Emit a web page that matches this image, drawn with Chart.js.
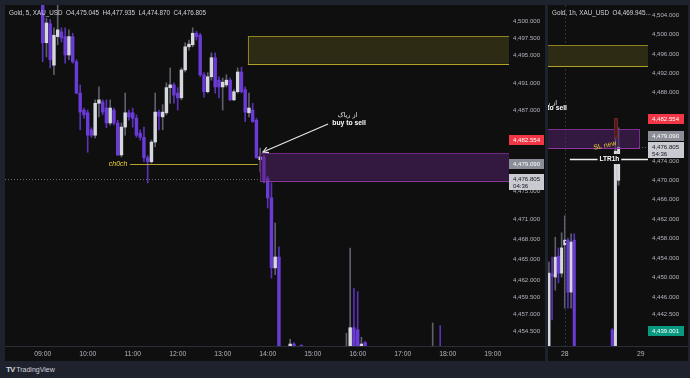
<!DOCTYPE html>
<html><head><meta charset="utf-8">
<script src="https://cdn.jsdelivr.net/npm/chart.js@4.4.1/dist/chart.umd.min.js"></script>
<style>
html,body{margin:0;padding:0;}
body{width:690px;height:378px;background:#1e222d;position:relative;overflow:hidden;}
.pane{position:absolute;background:#0f0f0f;}
#pane1{left:5px;top:5px;width:540px;height:356px;}
#pane2{left:548px;top:5px;width:140px;height:356px;}
canvas{position:absolute;left:0;top:0;}
#brand{position:absolute;left:6px;top:365px;color:#d1d4dc;font:7px "Liberation Sans",Arial,sans-serif;white-space:nowrap;}
#brand b{font-size:8px;margin-right:2px;letter-spacing:-1px;font-weight:bold;}
</style></head>
<body>
<div class="pane" id="pane1"><canvas id="c1" width="540" height="356"></canvas></div>
<div class="pane" id="pane2"><canvas id="c2" width="140" height="356"></canvas></div>
<div id="brand"><b>TV</b>TradingView</div>
<script>
// ---------- 5-minute chart (left pane) ----------
const times5m = [
 "09:00","09:05","09:10","09:15","09:20","09:25","09:30","09:35","09:40","09:45","09:50","09:55",
 "10:00","10:05","10:10","10:15","10:20","10:25","10:30","10:35","10:40","10:45","10:50","10:55",
 "11:00","11:05","11:10","11:15","11:20","11:25","11:30","11:35","11:40","11:45","11:50","11:55",
 "12:00","12:05","12:10","12:15","12:20","12:25","12:30","12:35","12:40","12:45","12:50","12:55",
 "13:00","13:05","13:10","13:15","13:20","13:25","13:30","13:35","13:40","13:45","13:50","13:55",
 "14:00","14:05","14:10","14:15","14:30","14:35","14:45",
 "15:45","15:50","15:55","16:00","16:05","16:10","17:40","17:50"];
const open5m = [
 4503.0,4496.9,4499.7,4493.6,4497.8,4498.5,4497.8,4495.1,4497.8,4494.1,4489.5,4487.0,
 4486.6,4484.1,4483.3,4488.0,4488.2,4487.3,4485.1,4487.0,4485.1,4480.4,4484.5,4486.6,
 4486.6,4485.8,4483.6,4483.0,4480.0,4479.4,4482.3,4486.7,4486.0,4486.6,4490.3,4490.7,
 4489.5,4488.8,4492.9,4496.3,4496.6,4498.3,4498.0,4492.2,4489.7,4491.9,4494.7,4491.4,
 4490.4,4490.7,4491.4,4488.5,4489.7,4492.6,4490.0,4486.6,4487.0,4485.5,4479.7,4480.1,
 4477.0,4474.1,4463.8,4465.4,4450.0,4452.6,4452.4,
 4449.0,4450.0,4455.0,4454.7,4450.0,4452.8,4448.0,4449.0];
const high5m = [
 4503.5,4500.5,4500.3,4499.1,4502.6,4499.1,4499.1,4498.8,4498.3,4494.4,4490.7,4487.3,
 4487.0,4484.4,4488.5,4490.4,4488.5,4488.5,4488.5,4487.3,4485.5,4485.1,4489.5,4487.0,
 4487.3,4486.3,4484.1,4484.5,4480.3,4482.6,4489.5,4487.0,4487.8,4491.0,4493.2,4491.0,
 4490.3,4493.2,4496.9,4497.3,4499.1,4498.6,4498.3,4492.5,4492.5,4495.4,4495.4,4491.9,
 4491.7,4492.2,4491.7,4490.0,4493.2,4493.3,4490.4,4489.5,4488.0,4485.8,4481.4,4480.4,
 4477.3,4476.3,4470.4,4466.9,4453.3,4452.8,4452.5,
 4454.2,4466.7,4460.8,4460.3,4453.6,4453.0,4455.7,4455.3];
const low5m = [
 4494.1,4494.8,4493.2,4492.2,4496.6,4497.0,4493.9,4494.4,4493.9,4489.4,4484.1,4485.8,
 4480.8,4483.0,4482.9,4486.0,4486.3,4484.4,4484.8,4484.8,4480.3,4480.1,4483.3,4485.5,
 4484.5,4483.0,4482.6,4479.4,4476.3,4479.2,4481.6,4484.1,4484.1,4486.3,4488.0,4488.0,
 4487.0,4488.5,4492.6,4495.8,4496.3,4497.3,4491.9,4488.9,4489.5,4491.4,4489.5,4488.8,
 4487.0,4490.4,4488.4,4488.4,4489.5,4489.5,4485.3,4486.0,4485.2,4479.9,4477.9,4476.3,
 4472.6,4462.3,4462.8,4447.0,4449.0,4449.0,4449.0,
 4448.0,4449.0,4449.0,4449.0,4449.0,4449.0,4447.0,4447.0];
const close5m = [
 4496.9,4499.8,4494.4,4498.0,4498.8,4497.6,4495.1,4497.8,4494.1,4489.5,4486.7,4486.3,
 4483.3,4483.3,4488.0,4488.5,4486.7,4485.1,4487.3,4485.1,4480.4,4484.5,4486.6,4486.0,
 4485.8,4483.3,4483.0,4480.0,4479.4,4482.3,4486.7,4486.1,4486.7,4490.3,4490.7,4489.2,
 4488.8,4492.9,4496.3,4496.7,4498.3,4497.8,4492.2,4489.7,4491.9,4494.7,4490.4,4490.4,
 4491.1,4491.4,4488.5,4489.7,4492.6,4489.7,4486.7,4487.3,4485.3,4480.0,4480.1,4476.7,
 4474.1,4463.8,4465.4,4448.0,4452.6,4450.0,4450.0,
 4451.0,4455.0,4450.0,4450.0,4452.6,4450.0,4449.0,4448.0];
const yTicks5m = [4500,4497.5,4495,4491,4487,4483,4479,4475,4471,4468,4465,4462,4459.5,4457,4454.5];
const xTickLabels5m = ["09:00","10:00","11:00","12:00","13:00","14:00","15:00","16:00","17:00","18:00","19:00"];

// ---------- 1-hour chart (right pane), x = hours from the 28th 00:00 ----------
const hours1h = [-5,-4,-3,-2,-1,0,1,2,3,15,16,17];
const open1h  = [4435.5,4450.7,4450.1,4454.4,4450.9,4456.7,4457.7,4447.0,4457.7,4439.2,4434.0,4470.0];
const high1h  = [4453.2,4454.2,4458.3,4456.1,4459.2,4462.7,4458.1,4459.0,4459.0,4439.5,4479.0,4480.8];
const low1h   = [4435.0,4441.3,4447.4,4448.9,4450.1,4443.7,4443.7,4443.7,4428.0,4433.0,4433.0,4469.0];
const close1h = [4450.9,4450.3,4454.2,4450.9,4456.1,4457.7,4447.0,4457.3,4430.0,4434.0,4476.0,4476.8];
const yTicks1h = [4504,4500,4496,4492,4488,4483,4479,4474,4470,4466,4462,4458,4454,4450,4446,4442.5];
const dayTicks1h = [0,24];
const dayLabels1h = ["28","29"];

// ---------- helpers ----------
const FONT = '"Liberation Sans", Arial, sans-serif';
const TICK = '#b2b5be';
const UP_BODY = '#d6d8de', DOWN_BODY = '#6a3bd6', UP_WICK = '#5d606b', DOWN_WICK = '#5a32b8';
function fmt(v){ return Number(v).toLocaleString('en-US',{minimumFractionDigits:3,maximumFractionDigits:3}); }
function slotOf(t){ const p=t.split(':').map(Number); return ((p[0]-9)*60+p[1])/5; }
const slots5m = times5m.map(slotOf);
const xTickSlots5m = xTickLabels5m.map(slotOf);

function candleSets(xs,o,h,l,c,bodyW){
  const up = xs.map((x,i)=>c[i]>=o[i]);
  return [
    {data: xs.map((x,i)=>({x:x,y:[l[i],h[i]]})), backgroundColor: up.map(u=>u?UP_WICK:DOWN_WICK),
     barThickness:1, grouped:false, borderWidth:0, order:2},
    {data: xs.map((x,i)=>({x:x,y:[Math.min(o[i],c[i]),Math.max(o[i],c[i])]})), backgroundColor: up.map(u=>u?UP_BODY:DOWN_BODY),
     barThickness:bodyW, grouped:false, borderWidth:0, minBarLength:1, order:1}
  ];
}

function makeAnnot(spec){
  return {
    id:'annot'+spec.id,
    afterDatasetsDraw(chart){
      const ctx=chart.ctx, a=chart.chartArea, xs=chart.scales.x, ys=chart.scales.y;
      const px=v=>xs.getPixelForValue(v), py=v=>ys.getPixelForValue(v);
      ctx.save();
      ctx.beginPath(); ctx.rect(a.left,a.top,a.right-a.left,a.bottom-a.top); ctx.clip();
      (spec.vlines||[]).forEach(l=>{
        const x=Math.round(px(l.x))+0.5;
        ctx.strokeStyle=l.color; ctx.lineWidth=1; ctx.setLineDash(l.dash||[]);
        ctx.beginPath(); ctx.moveTo(x,a.top); ctx.lineTo(x,a.bottom); ctx.stroke();
      });
      ctx.setLineDash([]);
      (spec.boxes||[]).forEach(b=>{
        const x1=b.x1==null?a.left-2:px(b.x1), x2=b.x2==null?a.right+2:px(b.x2);
        const y1=py(b.y1), y2=py(b.y2);
        ctx.fillStyle=b.fill; ctx.fillRect(x1,y1,x2-x1,y2-y1);
        ctx.lineWidth=1;
        ctx.strokeStyle=b.line;
        ctx.strokeRect(Math.round(x1)+0.5,Math.round(y1)+0.5,Math.round(x2-x1),Math.round(y2-y1));
        if(b.bottomLine){ ctx.strokeStyle=b.bottomLine; ctx.beginPath(); ctx.moveTo(x1,Math.round(y2)+0.5); ctx.lineTo(x2,Math.round(y2)+0.5); ctx.stroke(); }
      });
      (spec.hlines||[]).forEach(l=>{
        const x1=l.x1==null?a.left:px(l.x1), x2=l.x2==null?a.right:px(l.x2);
        const y=Math.round(py(l.y))+0.5;
        ctx.strokeStyle=l.color; ctx.lineWidth=l.width||1; ctx.setLineDash(l.dash||[]);
        ctx.beginPath(); ctx.moveTo(x1,y); ctx.lineTo(x2,y); ctx.stroke();
      });
      ctx.setLineDash([]);
      (spec.arrows||[]).forEach(r=>{
        const x1=px(r.x1),y1=py(r.y1),x2=px(r.x2),y2=py(r.y2);
        ctx.strokeStyle=r.color; ctx.lineWidth=1.2;
        ctx.beginPath(); ctx.moveTo(x1,y1); ctx.lineTo(x2,y2); ctx.stroke();
        const ang=Math.atan2(y2-y1,x2-x1), L=6;
        ctx.beginPath();
        ctx.moveTo(x2-L*Math.cos(ang-0.5),y2-L*Math.sin(ang-0.5));
        ctx.lineTo(x2,y2);
        ctx.lineTo(x2-L*Math.cos(ang+0.5),y2-L*Math.sin(ang+0.5));
        ctx.stroke();
      });
      (spec.texts||[]).forEach(t=>{
        ctx.save();
        ctx.font=t.font; ctx.textBaseline='middle'; ctx.textAlign=t.align||'center';
        const x=px(t.x), y=py(t.y);
        ctx.translate(x,y); if(t.rot) ctx.rotate(t.rot);
        if(t.bg){
          const w=ctx.measureText(t.text).width+4;
          const ox=t.align==='left'?-2:(t.align==='right'?-w+2:-w/2);
          ctx.fillStyle=t.bg; ctx.fillRect(ox,-5,w,10);
        }
        ctx.fillStyle=t.color; ctx.fillText(t.text,0,0);
        ctx.restore();
      });
      ctx.restore();
    },
    afterDraw(chart){
      const ctx=chart.ctx, a=chart.chartArea, ys=chart.scales.y, W=chart.width;
      ctx.save();
      ctx.strokeStyle='#2a2e39'; ctx.lineWidth=1;
      ctx.beginPath(); ctx.moveTo(0,Math.round(a.bottom)+0.5); ctx.lineTo(W,Math.round(a.bottom)+0.5); ctx.stroke();
      (spec.axisLabels||[]).forEach(l=>{
        const y=ys.getPixelForValue(l.y);
        const h=l.sub?16:10;
        ctx.fillStyle=l.bg;
        ctx.fillRect(a.right,Math.round(y-5),spec.labelW,h);
        ctx.fillStyle=l.fg; ctx.font='6.1px '+FONT; ctx.textBaseline='middle'; ctx.textAlign='left';
        ctx.fillText(l.text,a.right+4,y);
        if(l.sub) ctx.fillText(l.sub,a.right+4,y+7);
      });
      ctx.font='6.3px '+FONT; ctx.fillStyle='#d1d4dc'; ctx.textBaseline='middle'; ctx.textAlign='left';
      ctx.fillText(spec.title,a.left+4,8);
      ctx.restore();
    }
  };
}

function baseOptions(xmin,xmax,ymin,ymax,yTicks,xTicks,xLabel,yW){
  return {
    responsive:false, animation:false, events:[],
    layout:{padding:0, autoPadding:false},
    plugins:{legend:{display:false}, tooltip:{enabled:false}},
    scales:{
      x:{type:'linear', min:xmin, max:xmax, offset:false,
         grid:{display:false, drawTicks:false, offset:false}, border:{display:false},
         afterBuildTicks:s=>{ s.ticks=xTicks.map(v=>({value:v})); },
         afterFit:s=>{ s.height=15; s.paddingLeft=0; s.paddingRight=0; s.paddingTop=0; s.paddingBottom=0; },
         ticks:{color:TICK, font:{family:FONT,size:6.8}, padding:4, maxRotation:0, autoSkip:false,
                callback:(v)=>xLabel(v)}},
      y:{type:'linear', position:'right', min:ymin, max:ymax,
         grid:{display:false, drawTicks:false}, border:{display:false},
         afterBuildTicks:s=>{ s.ticks=yTicks.map(v=>({value:v})); },
         afterFit:s=>{ s.width=yW; s.paddingTop=0; s.paddingBottom=0; s.paddingLeft=0; s.paddingRight=0; },
         ticks:{color:TICK, font:{family:FONT,size:6.1}, padding:4, autoSkip:false,
                callback:(v)=>fmt(v)}}
    }
  };
}

const spec1 = {
  id:1, labelW:35,
  title:'Gold, 5, XAU_USD  O4,475.045  H4,477.935  L4,474.870  C4,476.805',
  boxes:[
    {x1:54.7, x2:null, y1:4497.9, y2:4493.8, fill:'#2e2b15', line:'#8f8221', bottomLine:'#b4a32b'},
    {x1:58.0, x2:null, y1:4480.7, y2:4476.6, fill:'rgba(88,34,112,0.5)', line:'#6c2a7e', bottomLine:'#8c389f'}
  ],
  hlines:[
    {x1:23.3, x2:57.4, y:4479.09, color:'#b5a32a'},
    {x1:null, x2:58.0, y:4476.805, color:'rgba(120,123,134,0.8)', dash:[1,2]}
  ],
  arrows:[{x1:76.1, y1:4484.95, x2:58.75, y2:4480.84, color:'#e6e6e6'}],
  texts:[
    {x:22.6, y:4479.09, text:'ch0ch', color:'#f0d53a', font:'italic 7px '+FONT, align:'right'},
    {x:81.3, y:4486.3, text:'از ریاک', color:'#e6e6e6', font:'6.5px "DejaVu Sans"', align:'center'},
    {x:81.7, y:4485.15, text:'buy to sell', color:'#ffffff', font:'bold 6.8px '+FONT, align:'center'}
  ],
  axisLabels:[
    {y:4482.554, text:'4,482.554', bg:'#f23645', fg:'#ffffff'},
    {y:4479.09, text:'4,479.090', bg:'#8b8e96', fg:'#ffffff'},
    {y:4476.805, text:'4,476.805', sub:'04:36', bg:'#c9cbd1', fg:'#131722'}
  ]
};
const spec2 = {
  id:2, labelW:36,
  title:'Gold, 1h, XAU_USD  O4,469.945...',
  vlines:[{x:0, color:'#2e3240', dash:[2,2]}],
  boxes:[
    {x1:null, x2:null, y1:4497.83, y2:4493.5, fill:'#2e2b15', line:'#8f8221', bottomLine:'#b4a32b'},
    {x1:null, x2:23.5, y1:4480.55, y2:4476.65, fill:'rgba(88,34,112,0.5)', line:'#7a2e8e', bottomLine:'#8c389f'},
    {x1:15.7, x2:16.6, y1:4482.8, y2:4478.9, fill:'#4a1c20', line:'#6e2428'}
  ],
  hlines:[
    {x1:1.6, x2:null, y:4474.38, color:'#f0f0f0', width:1.3},
    {x1:23.5, x2:null, y:4476.805, color:'rgba(120,123,134,0.8)', dash:[1,2]}
  ],
  texts:[
    {x:14.1, y:4474.38, text:'LTR1h', color:'#ffffff', bg:'#0f0f0f', font:'bold 6.5px '+FONT, align:'center'},
    {x:12.7, y:4477.16, text:'SL new', color:'#e8cc2e', font:'7px '+FONT, align:'center', rot:-0.2},
    {x:-2.4, y:4485.9, text:'از ریاک', color:'#e6e6e6', font:'6.5px "DejaVu Sans"', align:'right'},
    {x:0.7, y:4484.9, text:'buy to sell', color:'#ffffff', font:'bold 6.8px '+FONT, align:'right'}
  ],
  axisLabels:[
    {y:4482.554, text:'4,482.554', bg:'#f23645', fg:'#ffffff'},
    {y:4479.09, text:'4,479.090', bg:'#8b8e96', fg:'#ffffff'},
    {y:4476.805, text:'4,476.805', sub:'54:36', bg:'#c9cbd1', fg:'#131722'},
    {y:4439.001, text:'4,439.001', bg:'#089981', fg:'#ffffff'}
  ]
};

new Chart(document.getElementById('c1'), {
  type:'bar',
  data:{datasets:candleSets(slots5m,open5m,high5m,low5m,close5m,2.8)},
  options:baseOptions(-10.05,124.35,4452.31,4502.45,yTicks5m,xTickSlots5m,
    v=>xTickLabels5m[xTickSlots5m.indexOf(v)]||'',36),
  plugins:[makeAnnot(spec1)]
});
new Chart(document.getElementById('c2'), {
  type:'bar',
  data:{datasets:candleSets(hours1h,open1h,high1h,low1h,close1h,2.4)},
  options:baseOptions(-5.3,26.3,4435.92,4506.06,yTicks1h,dayTicks1h,
    v=>dayLabels1h[dayTicks1h.indexOf(v)]||'',40),
  plugins:[makeAnnot(spec2)]
});
</script>
</body></html>
